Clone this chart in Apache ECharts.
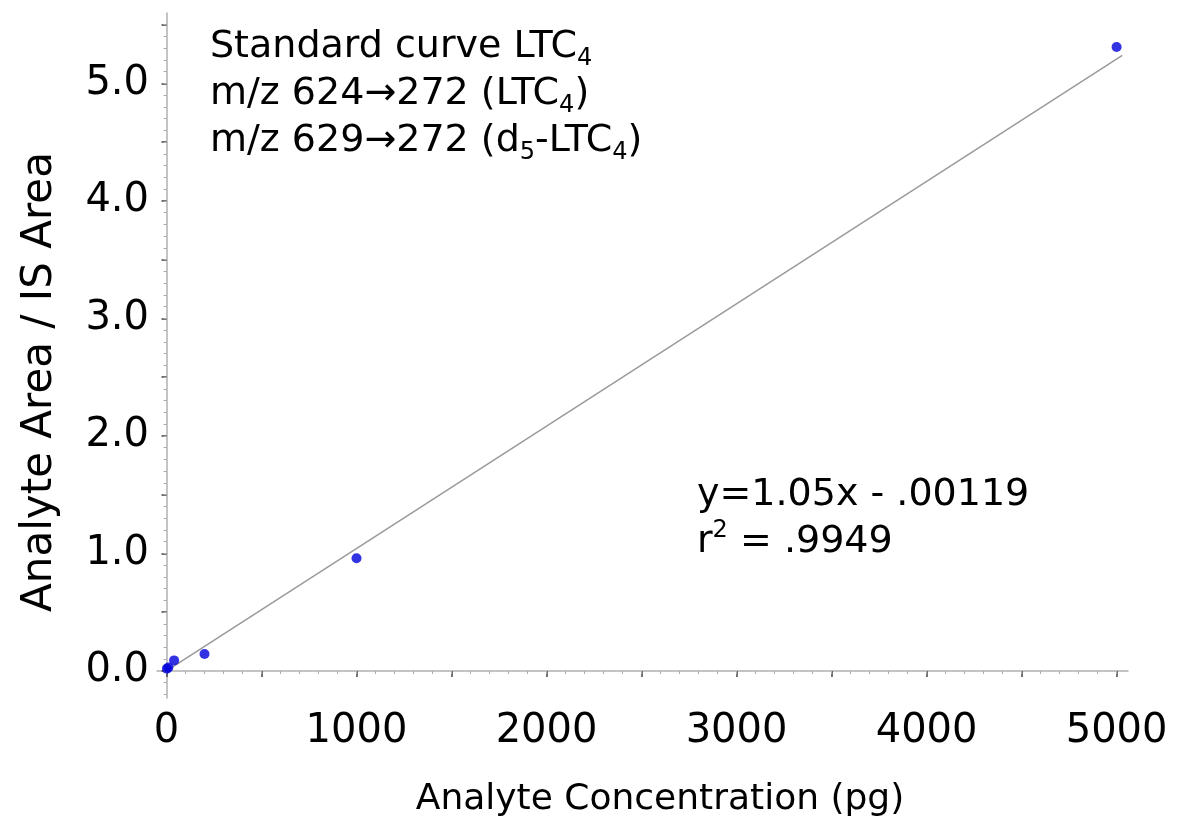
<!DOCTYPE html>
<html>
<head>
<meta charset="utf-8">
<title>Standard curve LTC4</title>
<script src="https://cdn.jsdelivr.net/npm/echarts@6/dist/echarts.min.js"></script>
<style>
  html, body { margin: 0; padding: 0; background: #fff; }
  #chart { width: 1194px; height: 826px; }
</style>
</head>
<body>
<div id="chart"></div>
<script>
// concentrations (pg) and area ratios
var concPg = [2, 10, 40, 200, 1000, 5000];
var areaRatio = [0.02, 0.03, 0.09, 0.145, 0.96, 5.31];
// ends of the fitted line
var fitX = [0, 5030];
var fitY = [0.0, 5.24];

var xLabelValues = [0, 1000, 2000, 3000, 4000, 5000];
var xMajorTicks = [0, 500, 1000, 1500, 2000, 2500, 3000, 3500, 4000, 4500, 5000];
var yLabelValues = [0, 1, 2, 3, 4, 5];
var yMajorTicks = [0, 0.5, 1, 1.5, 2, 2.5, 3, 3.5, 4, 4.5, 5, 5.5];

var xMinorTicks = [];
for (var i = 0; i <= 50; i++) xMinorTicks.push(i * 100);
var yMinorTicks = [];
for (var j = -2; j <= 55; j++) yMinorTicks.push(Math.round(j * 10) / 100);

var FONT = 'DejaVu Sans';

var chart = echarts.init(document.getElementById('chart'));

var option = {
  backgroundColor: '#fff',
  animation: false,
  grid: {
    left: 157,
    right: 66,
    top: 13,
    bottom: 128
  },
  xAxis: [{
    type: 'value',
    min: -50,
    max: 5060,
    splitLine: { show: false },
    axisLine: { lineStyle: { color: '#b0b0b0', width: 1.5 } },
    axisTick: {
      customValues: xMajorTicks,
      length: 6,
      lineStyle: { color: '#444', width: 1.5 }
    },
    axisLabel: {
      customValues: xLabelValues,
      margin: 14,
      color: '#000',
      fontFamily: FONT,
      fontSize: 40,
      formatter: function (v) { return String(v); }
    }
  }, {
    type: 'value',
    min: -50,
    max: 5060,
    position: 'bottom',
    splitLine: { show: false },
    axisLine: { show: false },
    axisTick: {
      customValues: xMinorTicks,
      length: 3,
      lineStyle: { color: '#aaa', width: 1 }
    },
    axisLabel: { show: false }
  }],
  yAxis: [{
    type: 'value',
    min: -0.23,
    max: 5.6,
    splitLine: { show: false },
    axisLine: { show: true, lineStyle: { color: '#b0b0b0', width: 1.5 } },
    axisTick: {
      show: true,
      customValues: yMajorTicks,
      length: 5,
      lineStyle: { color: '#444', width: 1.5 }
    },
    axisLabel: {
      customValues: yLabelValues,
      margin: 8,
      color: '#000',
      fontFamily: FONT,
      fontSize: 40,
      formatter: function (v) { return v.toFixed(1); }
    }
  }, {
    type: 'value',
    min: -0.23,
    max: 5.6,
    position: 'left',
    splitLine: { show: false },
    axisLine: { show: false },
    axisTick: {
      show: true,
      customValues: yMinorTicks,
      length: 3,
      lineStyle: { color: '#aaa', width: 1 }
    },
    axisLabel: { show: false }
  }],
  series: [{
    type: 'line',
    data: fitX.map(function (x, k) { return [x, fitY[k]]; }),
    symbol: 'none',
    lineStyle: { color: '#9a9a9a', width: 1.5 },
    z: 1
  }, {
    type: 'scatter',
    data: concPg.map(function (x, k) { return [x, areaRatio[k]]; }),
    symbolSize: 10,
    itemStyle: { color: '#0000dd' },
    z: 2
  }],
  graphic: [{
    type: 'text',
    left: 210,
    top: 28,
    style: {
      text: '{n|Standard curve LTC}{s|4}\n{n|m/z 624\u2192272 (LTC}{s|4}{n|)}\n{n|m/z 629\u2192272 (d}{s|5}{n|-LTC}{s|4}{n|)}',
      rich: {
        n: { fontFamily: FONT, fontSize: 38, lineHeight: 47, fill: '#000' },
        s: { fontFamily: FONT, fontSize: 24, lineHeight: 24, verticalAlign: 'bottom', fill: '#000' }
      }
    }
  }, {
    type: 'text',
    left: 697,
    top: 476,
    style: {
      text: '{n|y=1.05x - .00119}\n{n|r}{p|2}{n| = .9949}',
      rich: {
        n: { fontFamily: FONT, fontSize: 38, lineHeight: 47, fill: '#000' },
        p: { fontFamily: FONT, fontSize: 24, lineHeight: 24, verticalAlign: 'top', fill: '#000' }
      }
    }
  }, {
    type: 'text',
    x: 40,
    y: 382,
    rotation: Math.PI / 2,
    style: {
      text: 'Analyte Area / IS Area',
      fontFamily: FONT,
      fontSize: 42,
      fill: '#000',
      align: 'center',
      verticalAlign: 'middle'
    }
  }, {
    type: 'text',
    x: 660,
    y: 800,
    style: {
      text: 'Analyte Concentration (pg)',
      fontFamily: FONT,
      fontSize: 36,
      fill: '#000',
      align: 'center',
      verticalAlign: 'middle'
    }
  }]
};

chart.setOption(option);
</script>
</body>
</html>
